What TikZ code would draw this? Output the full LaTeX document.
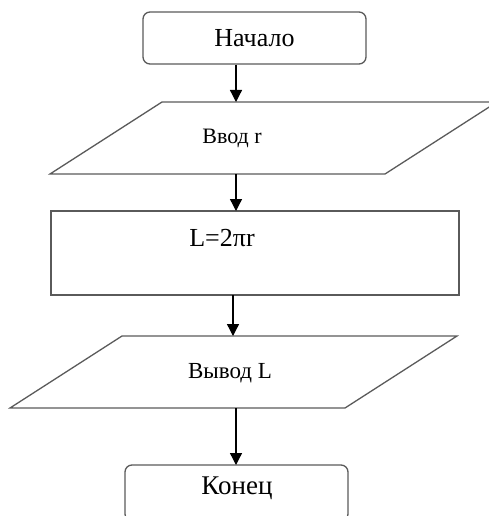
\documentclass[tikz,border=0pt]{standalone}
\usepackage{fontspec}
\setmainfont{Liberation Serif}
\usetikzlibrary{arrows.meta}
\definecolor{boxgray}{HTML}{5A5A5A}
\begin{document}
\begin{tikzpicture}[x=1pt,y=-1pt,
  box/.style={draw=boxgray, line width=1.3pt},
  rbox/.style={box, rounded corners=7pt, minimum width=223pt, minimum height=52pt, inner sep=0pt},
  arr/.style={-{Triangle[length=12pt,width=12pt]}, line width=1.3pt, black},
  txt/.style={inner sep=0pt, text=black}]
\useasboundingbox (0,0) rectangle (489,516);
\clip (0,0) rectangle (489,516);
% start
\node[rbox, font=\fontsize{26}{26}\selectfont] (start) at (254.5,38) {Начало};
% input
\draw[box] (162,102) -- (497,102) -- (385,174) -- (50,174) -- cycle;
\node[txt, font=\fontsize{22}{22}\selectfont] (in) at (232,138) {Ввод r};
\coordinate (inN) at (236,102);
\coordinate (inS) at (236,174);
% process
\node[box, minimum width=408pt, minimum height=84pt, inner sep=0pt] (proc) at (255,253) {};
\node[txt, font=\fontsize{26}{26}\selectfont] (proctxt) at (222,238) {L=2πr};
\coordinate (procN) at (236,211);
\coordinate (procS) at (233,295);
% output
\draw[box] (122,336) -- (457,336) -- (345,408) -- (10,408) -- cycle;
\node[txt, font=\fontsize{23}{23}\selectfont] (out) at (230,373) {Вывод L};
\coordinate (outN) at (233,336);
\coordinate (outS) at (236,408);
% end
\node[rbox, minimum height=56pt] (stop) at (236.5,493) {};
\node[txt, font=\fontsize{27}{27}\selectfont] (stoptxt) at (237,488) {Конец};
\coordinate (stopN) at (236,465);
% arrows
\draw[arr] (start.south -| inN) -- (inN);
\draw[arr] (inS) -- (procN);
\draw[arr] (procS) -- (outN);
\draw[arr] (outS) -- (stopN);
\end{tikzpicture}
\end{document}
